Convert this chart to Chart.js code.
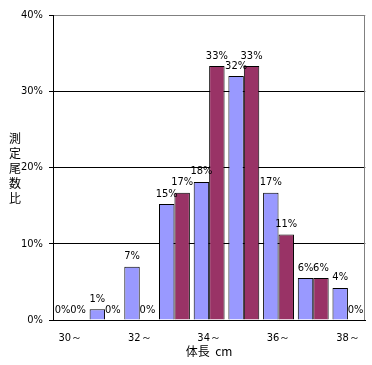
<!DOCTYPE html>
<html>
<head>
<meta charset="utf-8">
<script src="https://cdn.jsdelivr.net/npm/chart.js@4"></script>
<style>
  html, body { margin: 0; padding: 0; background: #fff; }
  #wrap { width: 372px; height: 365px; }
</style>
</head>
<body>
<div id="wrap"><canvas id="chart" width="372" height="365"></canvas></div>
<script>
const categories = ["30～", "31～", "32～", "33～", "34～", "35～", "36～", "37～", "38～"];
const seriesA = [0, 1.4, 7.0, 15.2, 18.1, 32.0, 16.7, 5.5, 4.2];
const seriesB = [0, 0, 0, 16.7, 33.3, 33.3, 11.2, 5.5, 0];
const yTitleChars = ["測", "定", "尾", "数", "比"];
const xTitle = "体長  cm";

const numFont = "'DejaVu Sans Condensed', 'Liberation Sans', sans-serif";
const cjkFont = "'Noto Sans CJK JP', sans-serif";

// value labels above each bar + the titles + grey right border
const extrasPlugin = {
  id: "extras",
  afterDatasetsDraw(chart) {
    const ctx = chart.ctx;
    ctx.save();
    ctx.font = "11px " + numFont;
    ctx.fillStyle = "#000";
    ctx.textAlign = "center";
    ctx.textBaseline = "alphabetic";
    chart.data.datasets.forEach((ds, i) => {
      chart.getDatasetMeta(i).data.forEach((bar, j) => {
        ctx.fillText(Math.round(ds.data[j]) + "%", bar.x, bar.y - 7.5);
      });
    });

    const area = chart.chartArea;
    ctx.strokeStyle = "#808080";
    ctx.lineWidth = 1;
    ctx.beginPath();
    ctx.moveTo(Math.round(area.right) - 0.5, area.top);
    ctx.lineTo(Math.round(area.right) - 0.5, area.bottom);
    ctx.stroke();

    ctx.font = "12px " + cjkFont;
    ctx.textBaseline = "middle";
    yTitleChars.forEach((c, k) => {
      ctx.fillText(c, 15, 138 + k * 15);
    });
    ctx.fillText(xTitle, (area.left + area.right) / 2, 351);
    ctx.restore();
  }
};

new Chart(document.getElementById("chart"), {
  type: "bar",
  data: {
    labels: categories,
    datasets: [
      {
        label: "系列1",
        data: seriesA,
        backgroundColor: "#9999FF",
        borderColor: "#000",
        borderWidth: 1,
      },
      {
        label: "系列2",
        data: seriesB,
        backgroundColor: "#993366",
        borderColor: "#000",
        borderWidth: 1,
      },
    ],
  },
  options: {
    responsive: false,
    animation: false,
    events: [],
    layout: { padding: { left: 0, top: 15, right: 5, bottom: 0 } },
    datasets: { bar: { categoryPercentage: 0.89, barPercentage: 1.0 } },
    plugins: {
      legend: { display: false },
      tooltip: { enabled: false },
    },
    scales: {
      x: {
        grid: { display: false, drawTicks: false },
        border: { display: true, color: "#000", width: 1 },
        ticks: {
          autoSkip: false,
          maxRotation: 0,
          padding: 12,
          color: "#000",
          font: { family: numFont, size: 11 },
          callback: (v, i) => (i % 2 === 0 ? categories[i] : ""),
        },
        afterFit: (scale) => { scale.height = 45; },
      },
      y: {
        min: 0,
        max: 40,
        ticks: {
          stepSize: 10,
          padding: 6,
          color: "#000",
          font: { family: numFont, size: 11 },
          callback: (v) => v + "%",
        },
        grid: {
          color: (c) => (c.tick && c.tick.value === 40 ? "#808080" : "#000"),
          tickColor: "#000",
          tickLength: 4,
          lineWidth: 1,
        },
        border: { display: true, color: "#000", width: 1 },
        afterFit: (scale) => { scale.width = 53; },
      },
    },
  },
  plugins: [extrasPlugin],
});
</script>
</body>
</html>
